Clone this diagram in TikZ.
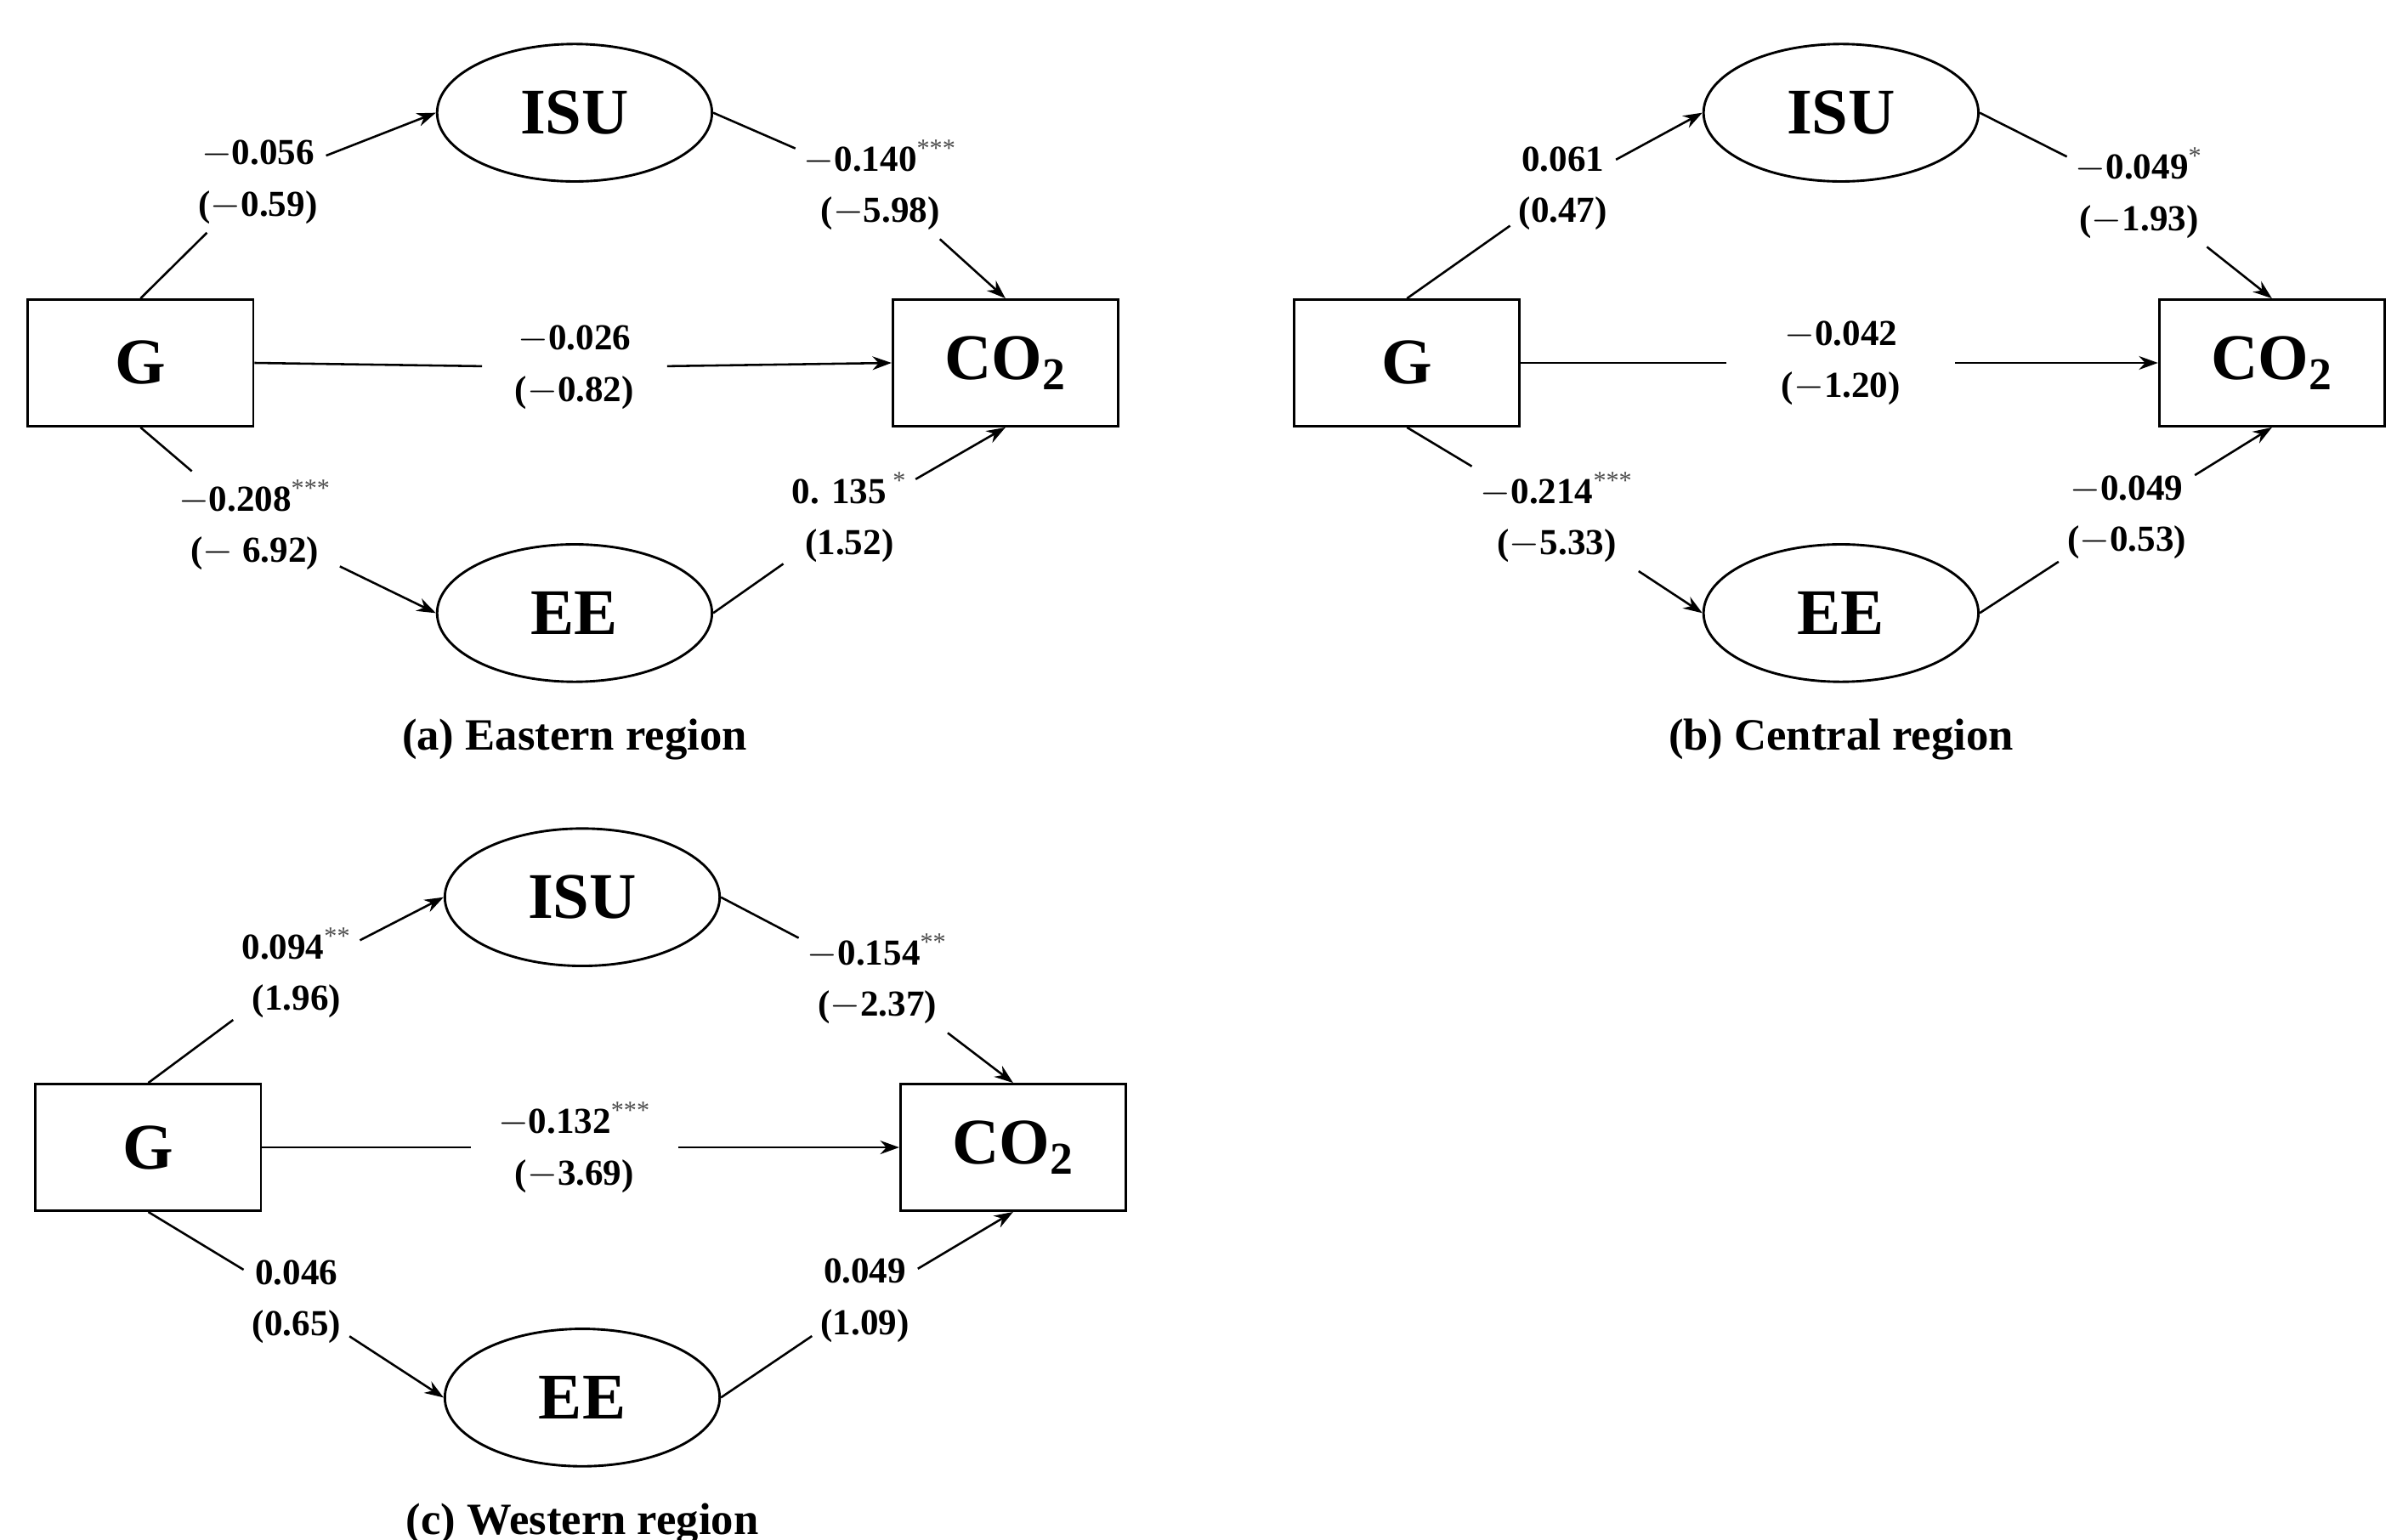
\documentclass[tikz,border=0pt]{standalone}
\usepackage{fontspec}
\setmainfont{Liberation Serif}
\usetikzlibrary{shapes.geometric,arrows.meta}
\begin{document}
\begin{tikzpicture}[x=0.02cm,y=-0.02cm,
 box/.style={draw,line width=0.9pt,minimum width=2.92cm,minimum height=1.64cm,font=\fontsize{24}{28}\selectfont\bfseries},
 ell/.style={draw,ellipse,line width=0.9pt,minimum width=3.56cm,minimum height=1.78cm,font=\fontsize{24}{28}\selectfont\bfseries},
 lab/.style={align=center,font=\fontsize{13.5}{19}\selectfont\bfseries,inner sep=3pt},
 captext/.style={font=\fontsize{16.5}{19}\selectfont\bfseries},
 ln/.style={line width=0.8pt},
 ar/.style={line width=0.8pt,-{Stealth[length=7pt,width=5pt]}}]
\useasboundingbox (0,0) rectangle (1552,997);
\newcommand{\st}[1]{\textsuperscript{\normalfont\color{black!70}#1}}
\newcommand{\mypanel}[8]{%
\begin{scope}[shift={#1}]
\node[box] (G#2) at (91,235) {G};
\node[box] (C#2) at (651,235) {CO\textsubscript{2}};
\node[ell] (I#2) at (372,73) {ISU};
\node[ell] (E#2) at (372,397) {EE};
#3 #4 #5 #6 #7
\draw[ln] (G#2.north) -- (a#2); \draw[ar] (a#2) -- (I#2.west);
\draw[ln] (I#2.east) -- (b#2); \draw[ar] (b#2) -- (C#2.north);
\draw[ln] (G#2.east) -- (c#2); \draw[ar] (c#2) -- (C#2.west);
\draw[ln] (G#2.south) -- (d#2); \draw[ar] (d#2) -- (E#2.west);
\draw[ln] (E#2.east) -- (e#2); \draw[ar] (e#2) -- (C#2.south);
\node[captext] (cap#2) at (372,479) {#8};
\end{scope}}
\mypanel{(0,0)}{A}
 {\node[lab] (aA) at (167,118) {$-$0.056\\($-$0.59)};}
 {\node[lab] (bA) at (570,120) {$-$0.140\st{***}\\($-$5.98)};}
 {\node[lab,inner xsep=12pt] (cA) at (372,238) {$-$0.026\\($-$0.82)};}
 {\node[lab] (dA) at (165,340) {$-$0.208\st{***}\\($-$ 6.92)};}
 {\node[lab] (eA) at (550,335) {0. 135\,\st{*}\\(1.52)};}
 {(a) Eastern region}
\mypanel{(820,0)}{B}
 {\node[lab] (aB) at (192,122) {0.061\\(0.47)};}
 {\node[lab] (bB) at (565,125) {$-$0.049\st{*}\\($-$1.93)};}
 {\node[lab,inner xsep=20pt] (cB) at (372,235) {$-$0.042\\($-$1.20)};}
 {\node[lab] (dB) at (188,335) {$-$0.214\st{***}\\($-$5.33)};}
 {\node[lab] (eB) at (557,335) {$-$0.049\\($-$0.53)};}
 {(b) Central region}
\mypanel{(5,508)}{C}
 {\node[lab] (aC) at (187,122) {0.094\st{**}\\(1.96)};}
 {\node[lab] (bC) at (563,126) {$-$0.154\st{**}\\($-$2.37)};}
 {\node[lab,inner xsep=10pt] (cC) at (367,235) {$-$0.132\st{***}\\($-$3.69)};}
 {\node[lab] (dC) at (187,335) {0.046\\(0.65)};}
 {\node[lab] (eC) at (555,334) {0.049\\(1.09)};}
 {(c) Western region}
\end{tikzpicture}
\end{document}
